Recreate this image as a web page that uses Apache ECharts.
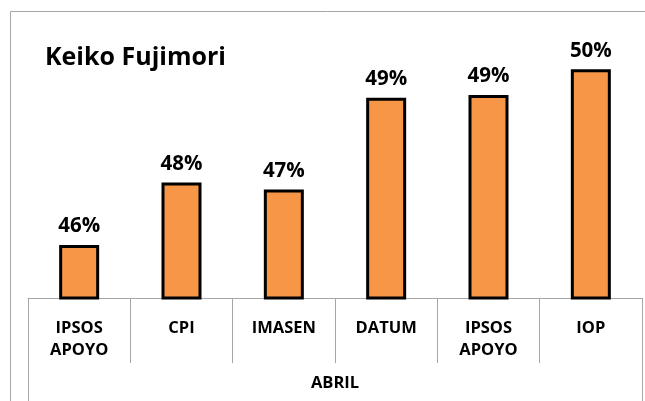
<!DOCTYPE html>
<html>
<head>
<meta charset="utf-8">
<title>Keiko Fujimori</title>
<script src="https://cdn.jsdelivr.net/npm/echarts@6/dist/echarts.min.js"></script>
<style>
  html, body { margin: 0; padding: 0; background: #fff; }
</style>
</head>
<body>
<div id="main" style="width: 645px; height: 401px;"></div>
<script type="text/javascript">
var pollsters = ['IPSOS\nAPOYO', 'CPI', 'IMASEN', 'DATUM', 'IPSOS\nAPOYO', 'IOP'];
var month = ['ABRIL'];
// bar heights (axis starts at 45)
var barValues = [46.21, 47.64, 47.48, 49.58, 49.64, 50.23];
// the printed labels
var barLabels = ['46%', '48%', '47%', '49%', '49%', '50%'];

var chartDom = document.getElementById('main');
var myChart = echarts.init(chartDom);
var font = '"Open Sans", sans-serif';

var option = {
  animation: false,
  backgroundColor: '#fff',
  title: {
    text: 'Keiko Fujimori',
    left: 40,
    top: 40,
    textStyle: { fontFamily: font, fontWeight: 'bold', fontSize: 25, color: '#000' }
  },
  graphic: [
    { type: 'line', shape: { x1: 10.5, y1: 11.5, x2: 645, y2: 11.5 }, style: { stroke: '#a6a6a6', lineWidth: 1 } },
    { type: 'line', shape: { x1: 10.5, y1: 11.5, x2: 10.5, y2: 401 }, style: { stroke: '#a6a6a6', lineWidth: 1 } }
  ],
  grid: { left: 28, right: 3, top: 35.5, bottom: 103 },
  xAxis: [
    {
      type: 'category',
      data: pollsters,
      position: 'bottom',
      axisLine: { lineStyle: { color: '#a6a6a6', width: 1 } },
      axisTick: { show: true, length: 65, lineStyle: { color: '#a6a6a6' } },
      axisLabel: {
        margin: 19, interval: 0,
        fontFamily: font, fontWeight: 'bold', fontSize: 16.5, lineHeight: 22, color: '#000'
      }
    },
    {
      type: 'category',
      data: month,
      position: 'bottom',
      offset: 65,
      axisLine: { show: false },
      axisTick: { show: true, length: 40, lineStyle: { color: '#a6a6a6' } },
      axisLabel: { margin: 12, fontFamily: font, fontWeight: 'bold', fontSize: 16.5, color: '#000' }
    }
  ],
  yAxis: { type: 'value', min: 45, max: 51, show: false },
  series: [
    {
      type: 'bar',
      xAxisIndex: 0,
      data: barValues,
      barWidth: 40,
      itemStyle: { color: '#F79646', borderColor: '#000', borderWidth: 3 },
      label: {
        show: true,
        position: 'top',
        distance: 8,
        fontFamily: font, fontWeight: 'bold', fontSize: 20.5, color: '#000',
        formatter: function (p) { return barLabels[p.dataIndex]; }
      }
    }
  ]
};

option && myChart.setOption(option);
</script>
</body>
</html>
